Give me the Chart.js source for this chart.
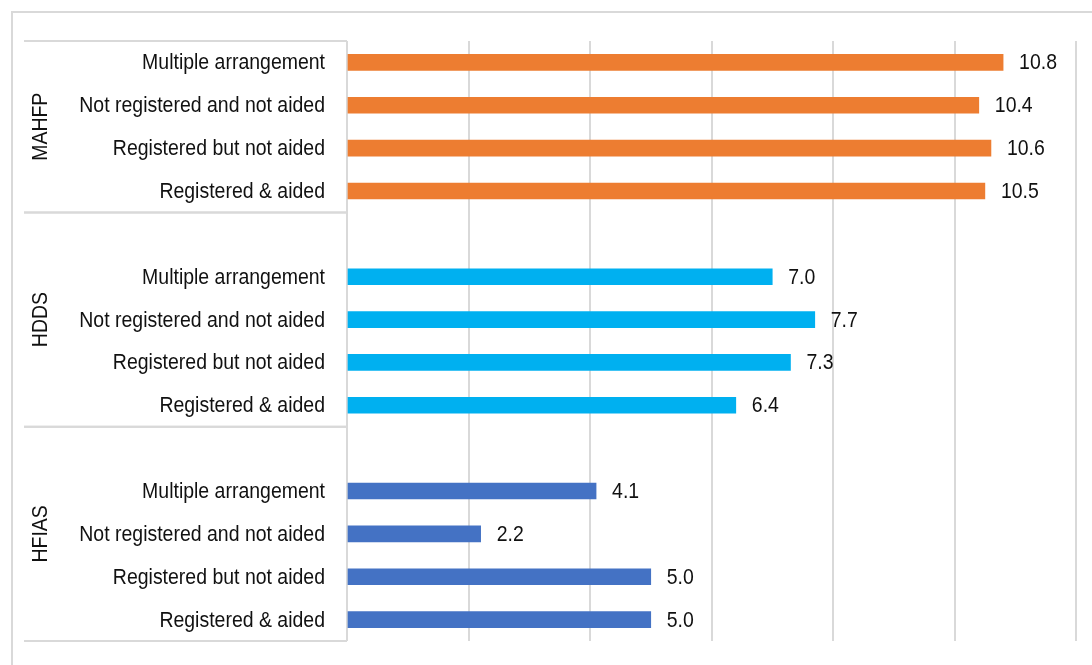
<!DOCTYPE html>
<html>
<head>
<meta charset="utf-8">
<script src="https://cdn.jsdelivr.net/npm/chart.js@4.4.1/dist/chart.umd.min.js"></script>
<style>
  html, body { margin: 0; padding: 0; background: #fff; overflow: hidden; }
</style>
</head>
<body>
<canvas id="chart" width="1092" height="665"></canvas>
<script>
// indicators, top to bottom
const groups = ['MAHFP', 'HDDS', 'HFIAS'];
const subgroups = ['Multiple arrangement', 'Not registered and not aided', 'Registered but not aided', 'Registered & aided'];
const mahfp = [10.8, 10.4, 10.6, 10.5];
const hdds = [7.0, 7.7, 7.3, 6.4];
const hfias = [4.1, 2.2, 5.0, 5.0];
const groupColors = ['#ED7D31', '#00B0F0', '#4472C4'];
const xTicks = [0, 2, 4, 6, 8, 10, 12];

// one empty row sits on top of every group after the first one
const series = [mahfp, hdds, hfias];
const labels = [], values = [], colors = [], spans = [];
series.forEach((vals, g) => {
  const start = labels.length;
  if (g > 0) { labels.push(''); values.push(null); colors.push('#fff'); }
  vals.forEach((v, i) => { labels.push(subgroups[i]); values.push(v); colors.push(groupColors[g]); });
  spans.push([start, labels.length - 1]);
});

// Arial-Narrow look: Liberation Sans squeezed a bit
const FONT = '22px "Liberation Sans", Arial, sans-serif';
const SX = 0.885;

function text(ctx, t, x, y, align) {
  ctx.save();
  ctx.translate(x, y);
  ctx.scale(SX, 1);
  ctx.textAlign = align;
  ctx.textBaseline = 'middle';
  ctx.fillText(t, 0, 0);
  ctx.restore();
}

const labelPlugin = {
  id: 'labelPlugin',
  beforeDraw(chart) {
    const ctx = chart.ctx;
    ctx.save();
    ctx.strokeStyle = '#d9d9d9';
    ctx.lineWidth = 2;
    ctx.beginPath();
    ctx.moveTo(12, 665); ctx.lineTo(12, 12); ctx.lineTo(1092, 12);
    ctx.stroke();
    ctx.restore();
  },
  afterDatasetsDraw(chart) {
    const ctx = chart.ctx, y = chart.scales.y, a = chart.chartArea;
    const meta = chart.getDatasetMeta(0);
    ctx.save();
    ctx.font = FONT;
    ctx.fillStyle = '#111';
    // category labels and value labels
    labels.forEach((l, i) => {
      const py = y.getPixelForValue(i) + 1;
      if (l) text(ctx, l, a.left - 22, py, 'right');
      if (values[i] != null) text(ctx, values[i].toFixed(1), meta.data[i].x + 16, py, 'left');
    });
    // group boxes
    ctx.strokeStyle = '#d9d9d9';
    ctx.lineWidth = 2;
    const half = (y.getPixelForValue(1) - y.getPixelForValue(0)) / 2;
    spans.forEach((s, g) => {
      const top = y.getPixelForValue(s[0]) - half;
      const bot = y.getPixelForValue(s[1]) + half;
      ctx.beginPath();
      ctx.moveTo(24, top); ctx.lineTo(a.left, top);
      ctx.moveTo(24, bot); ctx.lineTo(a.left, bot);
      ctx.stroke();
      ctx.save();
      ctx.translate(41, (top + bot) / 2);
      ctx.rotate(-Math.PI / 2);
      text(ctx, groups[g], 0, 0, 'center');
      ctx.restore();
    });
    ctx.restore();
  }
};

new Chart(document.getElementById('chart'), {
  type: 'bar',
  data: {
    labels: labels,
    datasets: [{
      data: values,
      backgroundColor: colors,
      borderWidth: 0,
      barThickness: 16
    }]
  },
  options: {
    indexAxis: 'y',
    responsive: false,
    devicePixelRatio: 1,
    animation: false,
    layout: { padding: { left: 0, top: 41, right: 16, bottom: 24 } },
    plugins: { legend: { display: false }, tooltip: { enabled: false } },
    scales: {
      x: {
        min: xTicks[0],
        max: xTicks[xTicks.length - 1],
        afterBuildTicks: s => { s.ticks = xTicks.map(v => ({ value: v })); },
        afterFit: s => { s.height = 0; },
        ticks: { display: false },
        grid: { color: '#d9d9d9', lineWidth: 2, drawTicks: false },
        border: { display: false }
      },
      y: {
        afterFit: s => { s.width = 347; },
        ticks: { display: false },
        grid: { display: false, drawTicks: false },
        border: { display: false }
      }
    }
  },
  plugins: [labelPlugin]
});
</script>
</body>
</html>
